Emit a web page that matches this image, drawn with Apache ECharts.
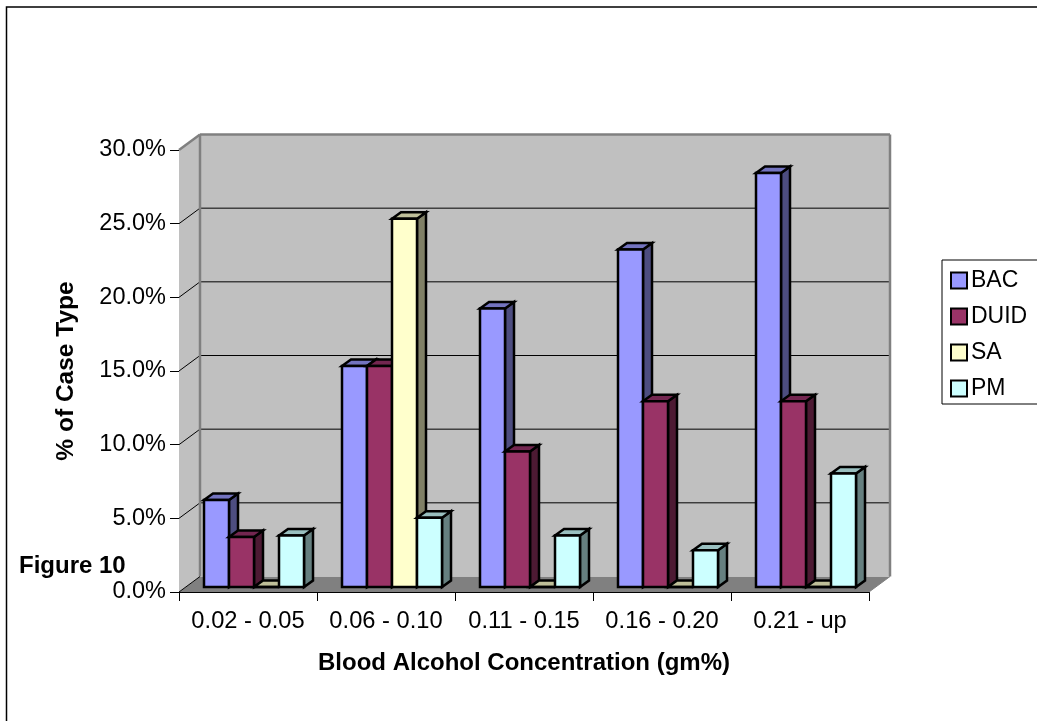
<!DOCTYPE html>
<html><head><meta charset="utf-8">
<style>html,body{margin:0;padding:0;background:#fff}#c{width:1037px;height:721px}</style>
<script src="https://cdn.jsdelivr.net/npm/echarts@6/dist/echarts.min.js"></script>
</head><body><div id="c"></div>
<script>
const categories = ['0.02 - 0.05','0.06 - 0.10','0.11 - 0.15','0.16 - 0.20','0.21 - up'];
const BAC  = [5.9, 15.0, 18.9, 22.9, 28.1];
const DUID = [3.4, 15.0, 9.2, 12.6, 12.6];
const SA   = [0, 25.0, 0, 0, 0];
const PM   = [3.5, 4.7, 3.5, 2.5, 7.7];
const seriesNames = ['BAC','DUID','SA','PM'];
const seriesValues = [BAC, DUID, SA, PM];
const faceColors = ['#9999FF','#993366','#FFFFCC','#CCFFFF'];
const topColors  = ['#7373BF','#732650','#BFBF99','#99BFBF'];
const sideColors = ['#4D4D80','#4D1A33','#808066','#668080'];
const yTicks = [0,5,10,15,20,25,30];
const FONT = '"Liberation Sans", Arial, sans-serif';
const DX = 21, DY = -15.5;      // wall depth
const BX = 6, BY = -5;          // bar plane offset
const DEPTH_X = 9, DEPTH_Y = -6.5;  // bar depth
const BAR_FRAC = 25 / 138;

function poly(points, fill, stroke, lw) {
  return {type:'polygon', shape:{points}, style:{fill, stroke: stroke||null, lineWidth: lw||0, lineJoin:'miter'}};
}
function line(p, q, stroke, lw) {
  return {type:'line', shape:{x1:p[0],y1:p[1],x2:q[0],y2:q[1]}, style:{stroke, lineWidth:lw}};
}
function renderWalls(params, api) {
  const a = api.coord([0, 0]);
  const band = api.size([1, 0])[0];
  const x0 = a[0] - band/2, x1 = x0 + band*categories.length;
  const y0 = a[1], yt = api.coord([0, 30])[1];
  const children = [
    poly([[x0,y0],[x0+DX,y0+DY],[x1+DX,y0+DY],[x1,y0]], '#808080'),
    poly([[x0,y0],[x0,yt],[x0+DX,yt+DY],[x0+DX,y0+DY]], '#C0C0C0'),
    poly([[x0+DX,y0+DY],[x0+DX,yt+DY],[x1+DX,yt+DY],[x1+DX,y0+DY]], '#C0C0C0'),
  ];
  yTicks.slice(1,-1).forEach(v => {
    const y = api.coord([0, v])[1];
    children.push(line([x0,y],[x0+DX,y+DY],'#000',1));
    children.push(line([x0+DX,y+DY],[x1+DX,y+DY],'#000',1));
  });
  children.push(line([x0+DX,y0+DY],[x0+DX,yt+DY],'#808080',2.5));
  children.push(line([x0+DX,yt+DY],[x1+DX,yt+DY],'#808080',2.5));
  children.push(line([x1+DX,yt+DY],[x1+DX,y0+DY],'#808080',2.5));
  children.push(line([x0,yt],[x0+DX,yt+DY],'#808080',2.5));
  children.push(line([x0,y0],[x0+DX,y0+DY],'#000',1));
  children.push(line([x1,y0],[x1+DX,y0+DY],'#808080',1));
  return {type:'group', children};
}
function makeRenderBar(si) {
  return function(params, api) {
    const idx = api.value(0), v = api.value(1);
    const band = api.size([1, 0])[0];
    const w = band * BAR_FRAC;
    const base = api.coord([idx, 0]), top = api.coord([idx, v]);
    const l = base[0] + BX + (si - 2) * w, r = l + w;
    const b = base[1] + BY, t = top[1] + BY;
    const S = '#000', L = 2.5;
    return {type:'group', children:[
      poly([[r,b],[r,t],[r+DEPTH_X,t+DEPTH_Y],[r+DEPTH_X,b+DEPTH_Y]], sideColors[si], S, L),
      poly([[l,t],[r,t],[r+DEPTH_X,t+DEPTH_Y],[l+DEPTH_X,t+DEPTH_Y]], topColors[si], S, L),
      poly([[l,b],[l,t],[r,t],[r,b]], faceColors[si], S, L)
    ]};
  };
}
const barSeries = seriesNames.map((name, si) => ({
  name, type:'custom', coordinateSystem:'cartesian2d', z: 3 + si,
  itemStyle:{color:faceColors[si], borderColor:'#000', borderWidth:2.5},
  encode:{x:0,y:1},
  renderItem: makeRenderBar(si),
  clip:false,
  data: seriesValues[si].map((v,i)=>[i,v])
}));
const chart = echarts.init(document.getElementById('c'), null, {renderer:'canvas'});
chart.setOption({
  animation:false,
  backgroundColor:'#fff',
  textStyle:{fontFamily:FONT},
  grid:{left:179, top:150, width:690, height:442, containLabel:false},
  xAxis:{type:'category', data:categories, boundaryGap:true,
    axisLine:{show:true,lineStyle:{color:'#000',width:1}},
    axisTick:{show:true,alignWithLabel:false,length:9,lineStyle:{color:'#000',width:1}},
    axisLabel:{color:'#000',fontSize:23.7,margin:17,fontFamily:FONT,interval:0},
    splitLine:{show:false},
    name:'Blood Alcohol Concentration (gm%)', nameLocation:'middle', nameGap:59,
    nameTextStyle:{color:'#000',fontSize:24,fontWeight:'bold',fontFamily:FONT}},
  yAxis:{type:'value', min:0, max:30, interval:5,
    axisLine:{show:true,lineStyle:{color:'#000',width:1}},
    axisTick:{show:true,length:9,lineStyle:{color:'#000',width:1}},
    axisLabel:{color:'#000',fontSize:23.5,margin:13,fontFamily:FONT,padding:[4,0,0,0],formatter:v=>v.toFixed(1)+'%'},
    splitLine:{show:false},
    name:'% of Case Type', nameLocation:'middle', nameGap:100,
    nameTextStyle:{color:'#000',fontSize:24.5,fontWeight:'bold',fontFamily:FONT}},
  legend:{orient:'vertical', left:942, top:260, data:seriesNames,
    padding:[9,20,4,8], itemGap:13, itemWidth:16, itemHeight:16,
    borderColor:'#000', borderWidth:1, icon:'rect',
    textStyle:{color:'#000',fontSize:23,fontFamily:FONT,padding:[0,0,0,-1]}},
  graphic:[
    {type:'polyline', shape:{points:[[6.5,721],[6.5,7],[1037,7]]}, style:{fill:'none',stroke:'#000',lineWidth:1.5}, z:-1},
    {type:'text', left:19, top:554, style:{text:'Figure 10', fill:'#000', font:'bold 24px '+FONT}, z:20}
  ],
  series:[
    {name:'walls', type:'custom', coordinateSystem:'cartesian2d', z:1, clip:false, renderItem:renderWalls, encode:{x:0,y:1}, data:[[0,0]], silent:true},
    ...barSeries
  ]
});
</script></body></html>
